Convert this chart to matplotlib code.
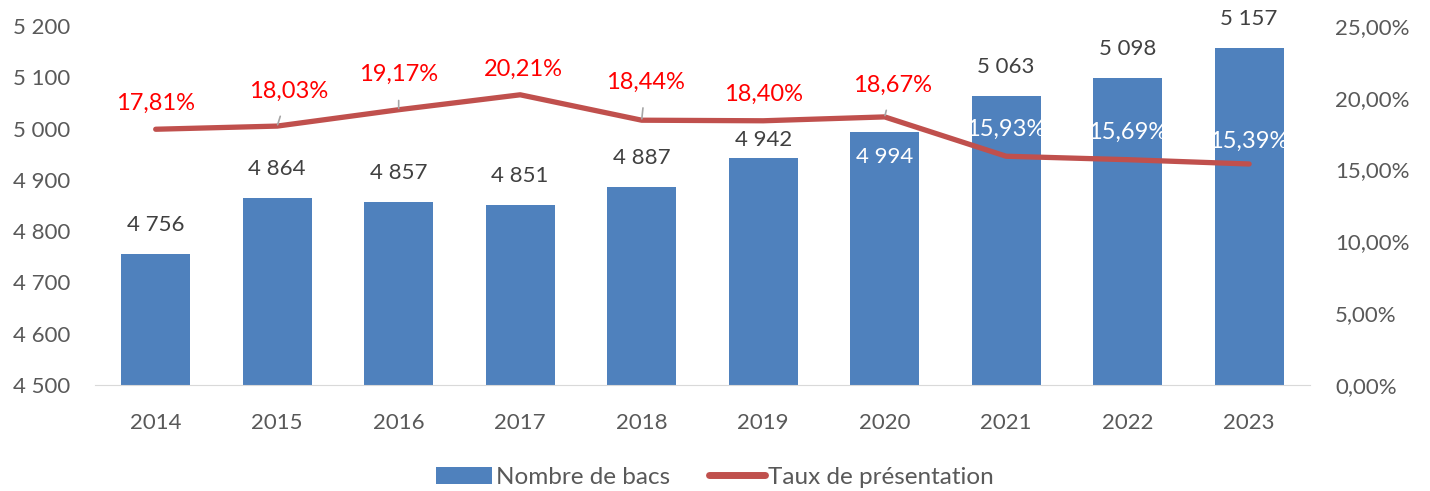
import matplotlib
matplotlib.use("Agg")
import matplotlib.pyplot as plt
from matplotlib.ticker import FuncFormatter

plt.rcParams['font.family'] = ['Lato', 'DejaVu Sans']

# Données
annees = ['2014', '2015', '2016', '2017', '2018', '2019', '2020', '2021', '2022', '2023']
nb_bacs = [4756, 4864, 4857, 4851, 4887, 4942, 4994, 5063, 5098, 5157]
taux = [17.81, 18.03, 19.17, 20.21, 18.44, 18.40, 18.67, 15.93, 15.69, 15.39]

BLEU = '#4F81BD'
ROUGE = '#C0504D'
GRIS_TXT = '#595959'
GRIS_LBL = '#404040'


def fr_int(v):
    return f"{int(v):,}".replace(',', ' ')


def fr_pct(v, dec=2):
    return f"{v:.{dec}f}".replace('.', ',') + '%'


fig = plt.figure(figsize=(14.3, 4.91), dpi=100)
ax = fig.add_axes([0.0664, 0.216, 0.8496, 0.731])
ax2 = ax.twinx()

x = list(range(len(annees)))
ax.bar(x, nb_bacs, width=0.57, color=BLEU, label='Nombre de bacs', zorder=2)
ax.set_ylim(4500, 5200)
ax.set_xlim(-0.5, len(annees) - 0.5)
ax.set_yticks(range(4500, 5201, 100))
ax.yaxis.set_major_formatter(FuncFormatter(lambda v, p: fr_int(v)))
ax.set_xticks(x)
ax.set_xticklabels(annees)
ax.tick_params(axis='both', length=0, labelsize=16, colors=GRIS_TXT)
ax.tick_params(axis='x', pad=20)
ax.tick_params(axis='y', pad=18)
for s in ['top', 'left', 'right']:
    ax.spines[s].set_visible(False)
ax.spines['bottom'].set_color('#D9D9D9')

ax2.set_ylim(0, 25)
ax2.set_yticks(range(0, 26, 5))
ax2.yaxis.set_major_formatter(FuncFormatter(lambda v, p: fr_pct(v)))
ax2.tick_params(axis='y', length=0, labelsize=16, colors=GRIS_TXT, pad=18)
for s in ax2.spines.values():
    s.set_visible(False)
ax2.plot(x, taux, color=ROUGE, lw=3.8, solid_capstyle='round', label='Taux de présentation', zorder=3)

# étiquettes des barres (décalage vertical en pixels)
decal_bacs = [29, 29, 29, 29, 29, 18, -25, 29, 29, 29]
for i, v in enumerate(nb_bacs):
    coul = 'white' if decal_bacs[i] < 0 else GRIS_LBL
    ax.annotate(fr_int(v), (i, v), xytext=(0, decal_bacs[i]), textcoords='offset pixels',
                ha='center', va='center', fontsize=16, color=coul, zorder=5)

# étiquettes du taux (décalage en pixels, trait de rappel)
decal = [(0, 26), (11, 35), (0, 35), (3, 25), (4, 38), (0, 26), (8, 32), (0, 27), (0, 27), (0, 23)]
rappel = [False, True, True, False, True, False, True, False, False, False]
for i, v in enumerate(taux):
    coul = 'white' if i >= 7 else '#FF0000'
    props = dict(arrowstyle='-', color='#A6A6A6', lw=1.2, shrinkA=9, shrinkB=1) if rappel[i] else None
    ax2.annotate(fr_pct(v), (i, v), xytext=decal[i], textcoords='offset pixels',
                 ha='center', va='center', fontsize=17, color=coul, arrowprops=props, zorder=6)

h1, l1 = ax.get_legend_handles_labels()
h2, l2 = ax2.get_legend_handles_labels()
leg = fig.legend(h1 + h2, l1 + l2, loc='center', bbox_to_anchor=(0.5, 0.028), ncol=2, frameon=False,
                 fontsize=17.5, labelcolor=GRIS_TXT, handlelength=2.3, handleheight=0.75,
                 handletextpad=0.15, columnspacing=1.6)
leg.get_lines()[0].set_linewidth(5)

fig.savefig('out.png', dpi=100)
